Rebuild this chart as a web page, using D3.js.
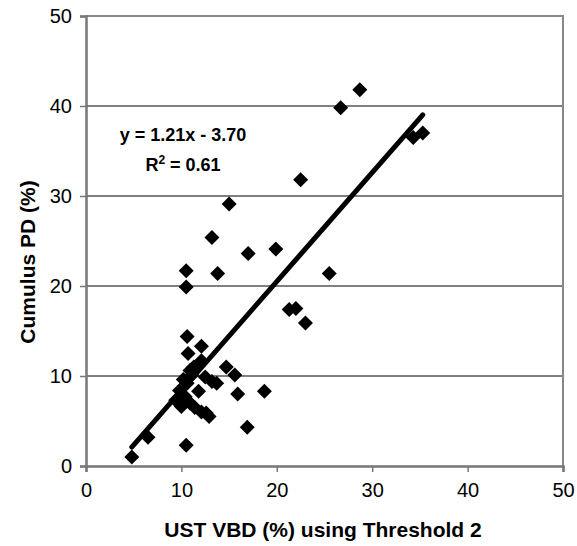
<!DOCTYPE html>
<html>
<head>
<meta charset="utf-8">
<script src="https://cdn.jsdelivr.net/npm/d3@7"></script>
<style>
  body { margin: 0; background: #fff; }
  text { font-family: "Liberation Sans", Arial, sans-serif; }
</style>
</head>
<body>
<svg width="577" height="546"></svg>
<script>
// values
const vbd = [4.8, 6.5, 10.5, 16.9, 12.9, 12.1, 10.9, 10.4, 9.8, 9.4, 10.0, 11.4, 11.8, 10.6, 11.1,
  12.5, 13.2, 13.7, 11.3, 12.1, 10.9, 10.7, 12.1, 10.6, 14.7, 15.6, 15.9, 18.7, 10.5, 10.5,
  13.8, 13.2, 15.0, 17.0, 19.9, 21.3, 22.0, 23.0, 25.5, 22.5, 26.7, 28.7, 34.3, 35.3, 12.6, 10.2];
const cumulusPD = [1.0, 3.2, 2.3, 4.3, 5.5, 6.0, 7.0, 7.7, 8.4, 7.3, 6.6, 6.5, 8.3, 9.2, 10.1,
  9.9, 9.4, 9.2, 11.0, 11.7, 10.6, 12.5, 13.3, 14.4, 11.0, 10.1, 8.0, 8.3, 19.9, 21.7,
  21.4, 25.4, 29.1, 23.6, 24.1, 17.4, 17.5, 15.9, 21.4, 31.8, 39.8, 41.8, 36.5, 37.0, 5.9, 9.6];
const xTicks = [0, 10, 20, 30, 40, 50];
const yTicks = [0, 10, 20, 30, 40, 50];
const slope = 1.21;
const intercept = -3.70;
const rSquared = 0.61;

const M = { left: 86, right: 563, top: 16, bottom: 466 };

const svg = d3.select("svg");
const x = d3.scaleLinear().domain([0, 50]).range([M.left, M.right]);
const y = d3.scaleLinear().domain([0, 50]).range([M.bottom, M.top]);

// gridlines
svg.append("g")
  .selectAll("line")
  .data(yTicks.filter(t => t > 0 && t < 50))
  .join("line")
  .attr("x1", M.left).attr("x2", M.right)
  .attr("y1", d => y(d)).attr("y2", d => y(d))
  .attr("stroke", "#000").attr("stroke-width", 1);

// frame (top + right)
svg.append("path")
  .attr("d", `M${M.left},${M.top}H${M.right}V${M.bottom}`)
  .attr("fill", "none").attr("stroke", "#888").attr("stroke-width", 2);

// axes
const xAxis = svg.append("g")
  .attr("transform", `translate(0,${M.bottom})`)
  .call(d3.axisBottom(x).tickValues(xTicks).tickSizeOuter(0).tickSize(6).tickPadding(11));
const yAxis = svg.append("g")
  .attr("transform", `translate(${M.left},0)`)
  .call(d3.axisLeft(y).tickValues(yTicks).tickSizeOuter(0).tickSize(6).tickPadding(8));

[xAxis, yAxis].forEach(a => {
  a.select(".domain").attr("stroke", "#777").attr("stroke-width", 2.5);
  a.selectAll(".tick line").attr("stroke", "#777").attr("stroke-width", 1.5);
  a.selectAll(".tick text")
    .attr("fill", "#000")
    .style("font-size", "20px")
    .style("font-family", "'Liberation Sans', Arial, sans-serif");
});

// trendline over the data range
const xMin = d3.min(vbd), xMax = d3.max(vbd);
svg.append("line")
  .attr("x1", x(xMin)).attr("y1", y(slope * xMin + intercept))
  .attr("x2", x(xMax)).attr("y2", y(slope * xMax + intercept))
  .attr("stroke", "#000").attr("stroke-width", 5).attr("stroke-linecap", "round");

// diamonds
const s = 7.5;
svg.append("g")
  .selectAll("path")
  .data(vbd.map((v, i) => [v, cumulusPD[i]]))
  .join("path")
  .attr("transform", d => `translate(${x(d[0])},${y(d[1])})`)
  .attr("d", `M0,${-s}L${s},0L0,${s}L${-s},0Z`)
  .attr("fill", "#000");

// equation
const eq = svg.append("g").attr("font-weight", "bold").style("font-size", "18px");
eq.append("text")
  .attr("x", 183).attr("y", 141).attr("text-anchor", "middle")
  .text(`y = ${slope.toFixed(2)}x - ${Math.abs(intercept).toFixed(2)}`);
const r2 = eq.append("text").attr("x", 183).attr("y", 171).attr("text-anchor", "middle");
r2.append("tspan").text("R");
r2.append("tspan").attr("dy", -7).style("font-size", "12px").text("2");
r2.append("tspan").attr("dy", 7).text(` = ${rSquared.toFixed(2)}`);

// axis titles
svg.append("text")
  .attr("x", 323).attr("y", 537)
  .attr("text-anchor", "middle").attr("font-weight", "bold").style("font-size", "21px")
  .text("UST VBD (%) using Threshold 2");
svg.append("text")
  .attr("transform", `translate(35,262) rotate(-90)`)
  .attr("text-anchor", "middle").attr("font-weight", "bold").style("font-size", "21px")
  .text("Cumulus PD (%)");
</script>
</body>
</html>
